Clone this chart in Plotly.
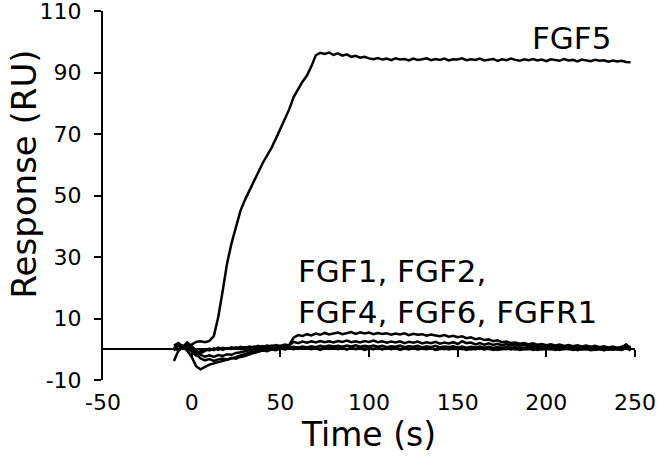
import plotly.graph_objects as go

# Sampling times (s)
time_s = [
    -10, -7.5, -5, -2.5, 0, 2.5, 5, 7.5, 10, 12.5,
    15, 17.5, 20, 22.5, 25, 27.5, 30, 32.5, 35, 37.5,
    40, 42.5, 45, 47.5, 50, 52.5, 55, 57.5, 60, 62.5,
    65, 67.5, 70, 72.5, 75, 77.5, 80, 82.5, 85, 87.5,
    90, 92.5, 95, 97.5, 100, 102.5, 105, 107.5, 110, 112.5,
    115, 117.5, 120, 122.5, 125, 127.5, 130, 132.5, 135, 137.5,
    140, 142.5, 145, 147.5, 150, 152.5, 155, 157.5, 160, 162.5,
    165, 167.5, 170, 172.5, 175, 177.5, 180, 182.5, 185, 187.5,
    190, 192.5, 195, 197.5, 200, 202.5, 205, 207.5, 210, 212.5,
    215, 217.5, 220, 222.5, 225, 227.5, 230, 232.5, 235, 237.5,
    240, 242.5, 245, 247.5,
]

fgf5 = [
    0.4, 1.2, 0.6, 1.0, 1.5, 2.4, 2.6, 2.3, 2.7, 4.3,
    10.5, 19.0, 28.0, 34.5, 40.0, 45.0, 48.5, 51.5, 55.0, 57.5,
    60.5, 63.0, 65.5, 68.5, 71.5, 74.5, 78.0, 82.0, 84.5, 87.0,
    89.0, 92.0, 95.6, 96.4, 96.0, 96.5, 95.7, 96.2, 95.5, 95.9,
    95.1, 95.4, 94.8, 95.1, 94.6, 94.3, 94.7, 94.2, 94.5, 94.0,
    94.6, 94.2, 94.4, 93.9, 94.5, 94.1, 94.3, 94.6, 94.0, 94.4,
    94.1, 94.5, 93.9, 94.3, 94.2, 94.6, 94.0, 94.3, 94.1, 94.5,
    93.9, 94.2, 94.4, 93.8, 94.3, 94.0, 94.5, 94.1, 93.8, 94.3,
    94.0, 94.4, 93.9, 94.2, 93.7, 94.3, 94.0, 93.8, 94.4, 93.9,
    94.1, 93.6, 94.2, 93.9, 93.7, 94.1, 93.8, 94.0, 93.5, 93.9,
    93.6, 93.8, 93.4, 93.3,
]

fgf1 = [
    0.8, -0.5, 1.2, 0.3, -0.8, -2.0, -1.2, -0.4, 0.2, -0.3,
    0.5, -0.2, 0.4, 0.1, 0.6, 0.0, 0.7, 0.3, 0.9, 0.4,
    1.0, 0.6, 1.2, 0.8, 1.1, 0.9, 1.4, 3.8, 4.6, 4.3,
    4.9, 4.5, 5.1, 4.7, 5.3, 4.8, 5.0, 5.4, 4.9, 5.2,
    5.6, 5.0, 5.5, 5.1, 5.4, 4.9, 5.3, 5.0, 5.2, 4.7,
    5.1, 4.8, 5.2, 4.6, 5.0, 4.7, 4.9, 4.4, 4.8, 4.5,
    4.2, 4.6, 4.1, 4.4, 3.9, 4.2, 3.6, 3.9, 3.3, 3.6,
    3.0, 3.2, 2.6, 2.9, 2.3, 2.5, 2.0, 2.2, 1.8, 2.0,
    1.6, 1.9, 1.5, 1.7, 1.3, 1.6, 1.2, 1.5, 1.1, 1.4,
    1.0, 1.3, 0.9, 1.2, 0.8, 1.1, 0.7, 1.0, 0.6, 0.9,
    0.5, 0.8, 1.3, 0.6,
]

fgf2 = [
    -0.5, 1.5, 0.2, 1.0, 0.4, -1.0, -0.6, 0.0, -0.4, 0.3,
    -0.2, 0.5, 0.1, 0.6, 0.2, 0.8, 0.4, 0.9, 0.6, 1.1,
    0.7, 1.2, 0.9, 1.4, 1.0, 1.5, 1.2, 2.4, 2.0, 2.5,
    2.1, 2.6, 2.2, 2.7, 2.3, 2.6, 2.2, 2.7, 2.4, 2.8,
    2.3, 2.6, 2.2, 2.7, 2.4, 2.8, 2.3, 2.6, 2.1, 2.5,
    2.2, 2.6, 2.0, 2.4, 2.1, 2.5, 1.9, 2.3, 2.0, 2.4,
    1.8, 2.2, 1.9, 2.3, 1.7, 2.6, 2.0, 2.2, 1.6, 2.0,
    1.5, 1.9, 1.4, 1.8, 1.3, 1.7, 1.2, 1.6, 1.1, 1.5,
    1.0, 1.4, 0.9, 1.3, 0.8, 1.2, 0.7, 1.1, 0.6, 1.0,
    0.5, 0.9, 0.4, 0.8, 0.3, 0.7, 0.2, 0.6, 0.1, 0.5,
    0.0, 0.4, 0.9, 0.2,
]

fgf4 = [
    0.5, 0.0, 1.0, -0.5, -2.5, -5.5, -6.5, -5.8, -5.0, -4.6,
    -4.2, -3.8, -3.5, -3.0, -2.6, -2.0, -1.5, -1.0, -0.6, -0.3,
    0.1, -0.2, 0.3, 0.0, 0.4, 0.1, 0.5, 0.2, 0.6, 0.3,
    0.7, 0.2, 0.5, 0.1, 0.6, 0.3, 0.7, 0.2, 0.5, 0.0,
    0.4, 0.1, 0.6, 0.2, 0.5, 0.0, 0.4, 0.1, 0.5, 0.2,
    0.6, 0.1, 0.4, 0.0, 0.5, 0.2, 0.6, 0.1, 0.4, -0.1,
    0.3, 0.0, 0.5, 0.1, 0.4, 0.0, 0.3, -0.1, 0.4, 0.1,
    0.5, 0.0, 0.3, -0.2, 0.2, 0.0, 0.4, -0.1, 0.3, 0.0,
    0.4, -0.2, 0.2, 0.0, 0.3, -0.1, 0.2, -0.2, 0.3, 0.0,
    0.2, -0.3, 0.1, -0.1, 0.2, -0.2, 0.1, -0.3, 0.0, -0.1,
    0.2, -0.2, 0.4, -0.4,
]

fgf6 = [
    -3.8, -0.5, 0.5, 1.8, 0.8, -1.5, -3.0, -3.6, -3.2, -3.8,
    -3.3, -3.0, -3.4, -2.8, -3.1, -2.5, -2.2, -1.6, -1.2, -0.8,
    -0.4, -0.6, -0.1, -0.3, 0.2, -0.1, 0.3, 0.0, 0.4, 0.1,
    0.5, 0.0, 0.3, -0.2, 0.4, 0.1, 0.5, 0.0, 0.3, -0.1,
    0.4, 0.0, 0.3, -0.2, 0.2, 0.1, 0.4, -0.1, 0.3, 0.0,
    0.4, -0.2, 0.2, 0.0, 0.3, -0.1, 0.2, 0.0, 0.4, -0.2,
    0.1, 0.3, -0.1, 0.2, 0.0, 0.3, -0.2, 0.2, 0.0, 0.3,
    -0.1, 0.2, -0.2, 0.1, 0.0, 0.3, -0.1, 0.2, -0.2, 0.1,
    0.0, 0.2, -0.2, 0.1, -0.1, 0.2, -0.2, 0.1, 0.0, 0.2,
    -0.2, 0.1, -0.1, 0.2, -0.3, 0.0, 0.1, -0.2, 0.1, -0.1,
    0.0, -0.2, 0.8, -0.3,
]

fgfr1 = [
    1.2, 2.0, 0.8, 2.2, 1.0, -0.5, -1.8, -2.4, -2.0, -2.5,
    -1.9, -2.2, -1.6, -1.8, -1.2, -1.0, -0.6, -0.3, 0.0, 0.3,
    0.1, 0.5, 0.2, 0.6, 0.3, 0.7, 0.4, 0.8, 0.5, 0.9,
    0.6, 1.0, 0.7, 1.1, 0.8, 1.2, 0.9, 1.1, 0.8, 1.2,
    0.9, 1.3, 0.8, 1.1, 0.9, 1.2, 0.8, 1.1, 0.7, 1.0,
    0.8, 1.2, 0.7, 1.0, 0.8, 1.1, 0.6, 1.0, 0.7, 1.1,
    0.6, 0.9, 0.7, 1.0, 0.6, 0.9, 0.5, 0.8, 0.6, 0.9,
    0.5, 0.8, 0.4, 0.7, 0.5, 0.8, 0.4, 0.7, 0.3, 0.6,
    0.4, 0.7, 0.3, 0.6, 0.4, 0.7, 0.3, 0.6, 0.2, 0.5,
    0.3, 0.6, 0.2, 0.5, 0.3, 0.6, 0.2, 0.5, 0.1, 0.4,
    0.2, 0.5, 1.6, 0.3,
]

x_tick_vals = [-50, 0, 50, 100, 150, 200, 250]
x_tick_text = ["-50", "0", "50", "100", "150", "200", "250"]
y_tick_vals = [-10, 10, 30, 50, 70, 90, 110]
y_tick_text = ["-10", "10", "30", "50", "70", "90", "110"]

FONT = "DejaVu Sans, Verdana, sans-serif"

fig = go.Figure()
fig.add_trace(go.Scatter(x=time_s, y=fgf5, mode="lines", name="FGF5",
                         line=dict(color="black", width=2.5), xaxis="x", yaxis="y"))
for name, vals in [("FGF1", fgf1), ("FGF2", fgf2), ("FGF4", fgf4),
                   ("FGF6", fgf6), ("FGFR1", fgfr1)]:
    fig.add_trace(go.Scatter(x=time_s, y=vals, mode="lines", name=name,
                             line=dict(color="black", width=2.5),
                             xaxis="x2", yaxis="y"))

fig.update_layout(
    width=660, height=457,
    margin=dict(l=103, r=25, t=11, b=77),
    paper_bgcolor="white", plot_bgcolor="white",
    showlegend=False,
    font=dict(family=FONT, color="black", size=22),
    xaxis=dict(
        range=[-50, 250], tickvals=x_tick_vals, ticktext=x_tick_text,
        showline=False, ticks="", showgrid=False, zeroline=False,
        automargin=False, ticklabeloverflow="allow",
        tickfont=dict(family=FONT, size=22, color="black"),
        ticklabelstandoff=7,
        title=dict(text="Time (s)", font=dict(family=FONT, size=33, color="black"),
                   standoff=1),
    ),
    xaxis2=dict(
        range=[-50, 250], matches="x", overlaying="x", anchor="free",
        position=(0 - (-10)) / (110 - (-10)), side="bottom",
        tickvals=x_tick_vals[1:], showticklabels=False,
        showline=True, linecolor="black", linewidth=1.5,
        ticks="outside", ticklen=7, tickwidth=2, tickcolor="black",
        showgrid=False, zeroline=False, automargin=False,
    ),
    yaxis=dict(
        range=[-10, 110], tickvals=y_tick_vals, ticktext=y_tick_text,
        showline=True, linecolor="black", linewidth=2,
        ticks="outside", ticklen=7, tickwidth=2, tickcolor="black",
        showgrid=False, zeroline=False,
        automargin=False, ticklabeloverflow="allow",
        tickfont=dict(family=FONT, size=22, color="black"),
        ticklabelstandoff=8,
    ),
    annotations=[
        dict(text="Response (RU)", textangle=-90, xref="paper", yref="paper",
             x=(23 - 103) / 532, y=(380 - 174.5) / 369,
             xanchor="center", yanchor="middle", showarrow=False,
             font=dict(family=FONT, size=34, color="black")),
        dict(text="FGF5", xref="x", yref="y", x=191.0, y=101.2,
             xanchor="left", yanchor="middle", showarrow=False,
             font=dict(family=FONT, size=31, color="black")),
        dict(text="FGF1, FGF2,", xref="x", yref="y", x=59.0, y=25.4,
             xanchor="left", yanchor="middle", showarrow=False,
             font=dict(family=FONT, size=31, color="black")),
        dict(text="FGF4, FGF6, FGFR1", xref="x", yref="y", x=59.0, y=12.0,
             xanchor="left", yanchor="middle", showarrow=False,
             font=dict(family=FONT, size=31, color="black")),
    ],
)

# Remove the browser's default 8px page margin so the figure sits at (0, 0).
fig.write_html("out.html", config={"displayModeBar": False},
               post_script="document.body.style.margin='0';")
